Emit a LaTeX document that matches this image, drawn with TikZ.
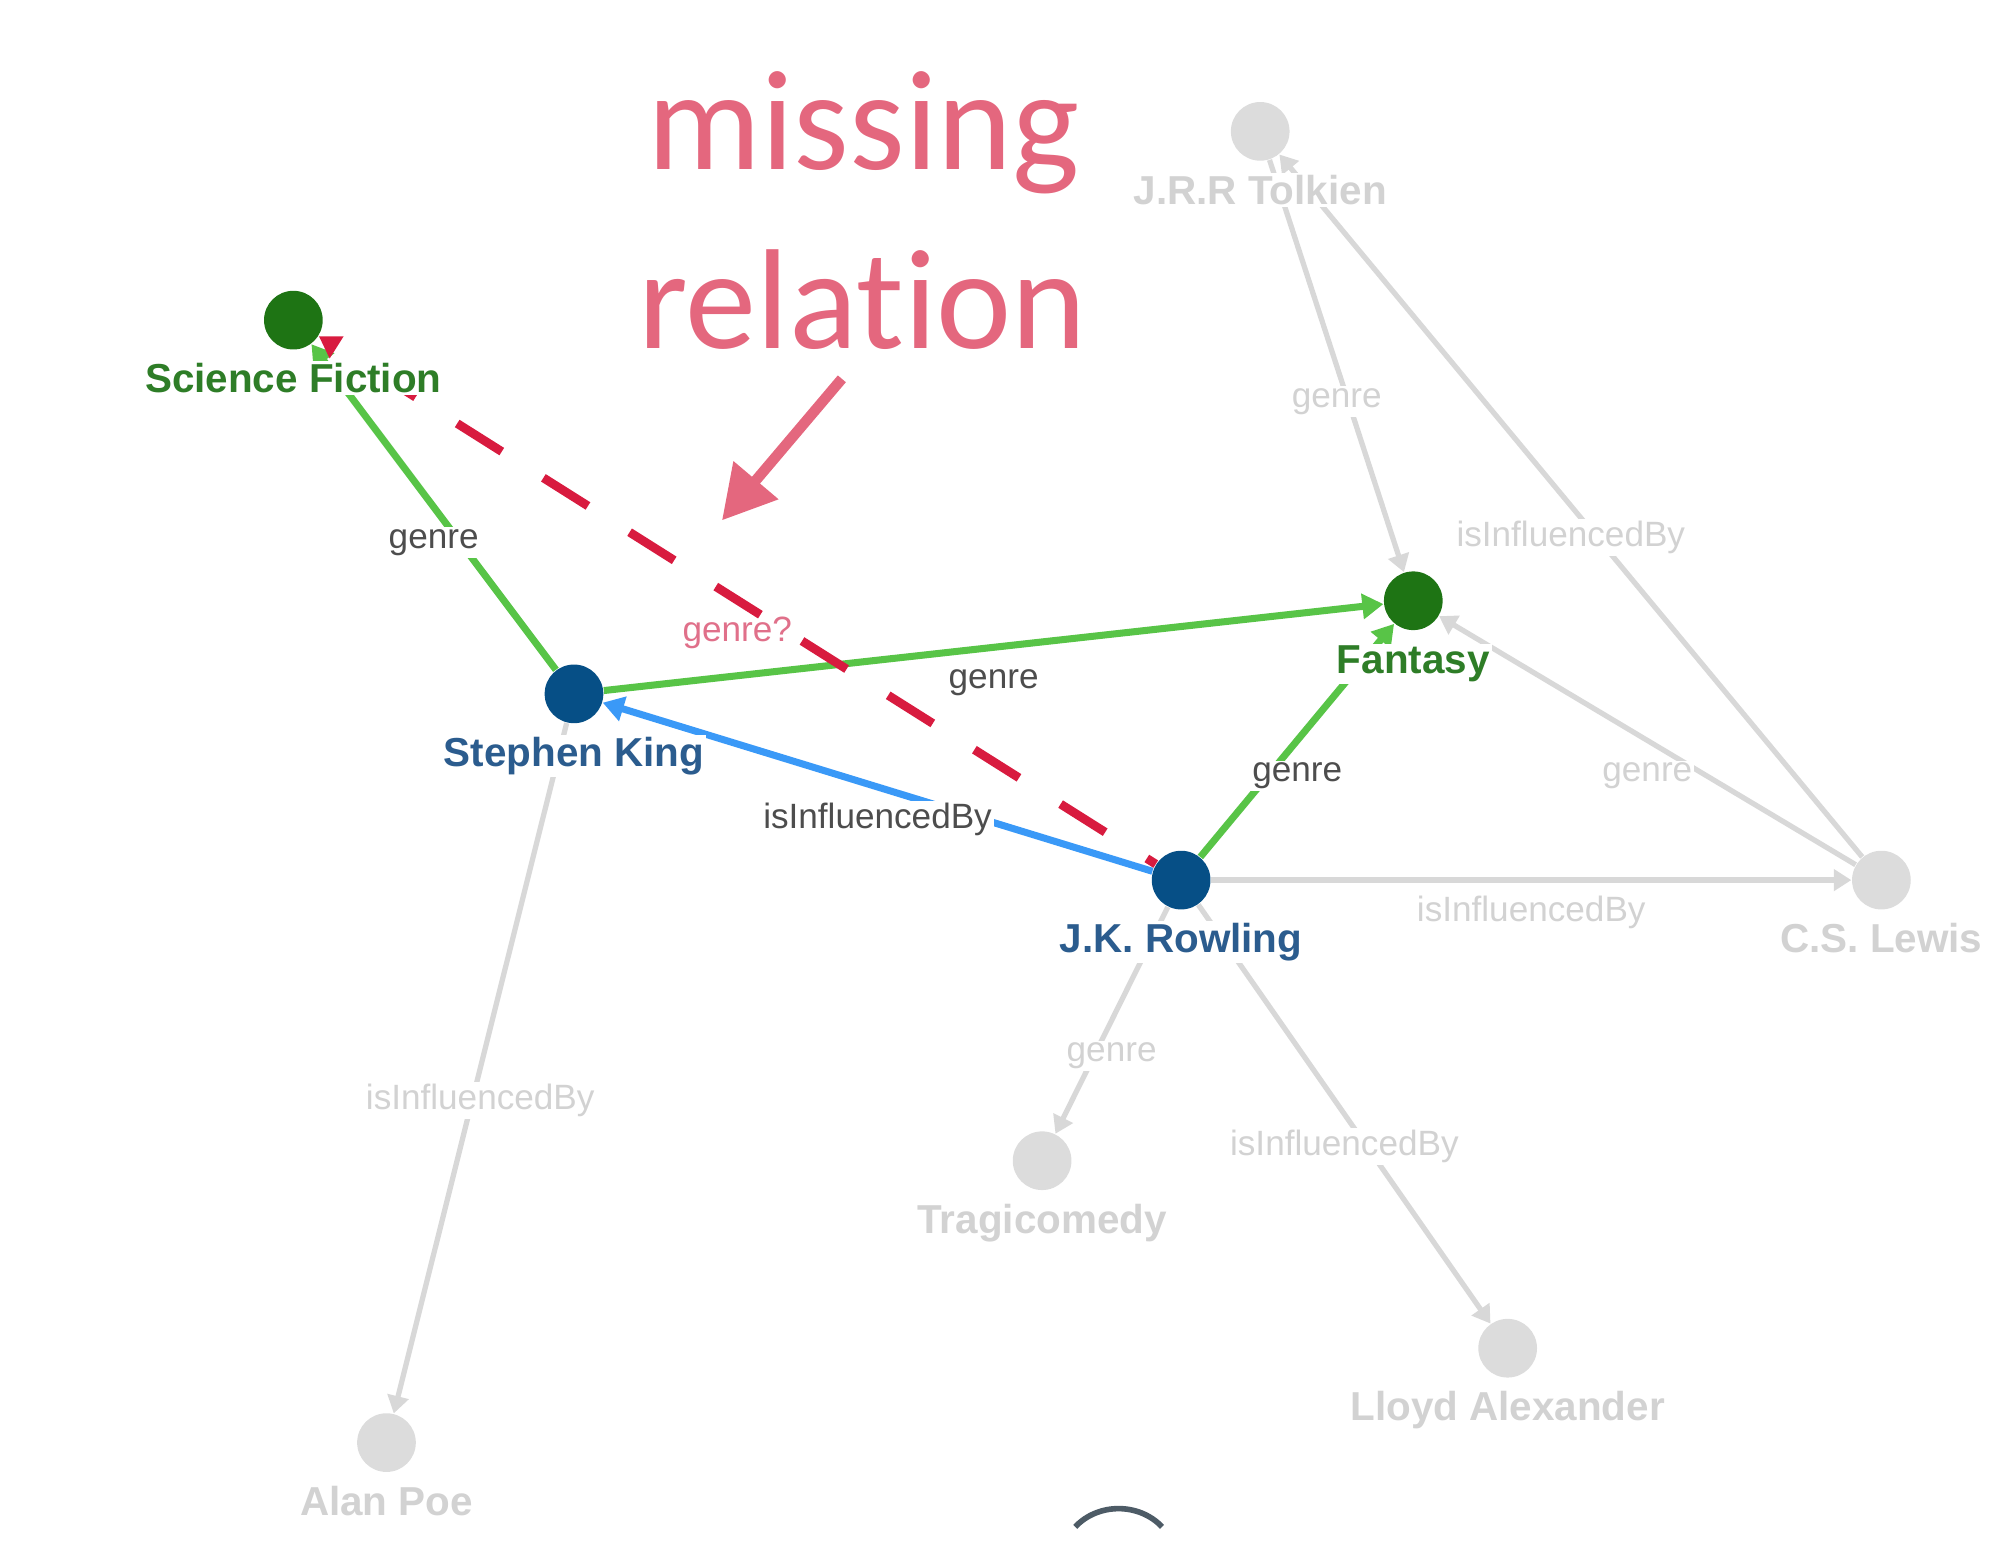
\documentclass[tikz,border=0pt]{standalone}
\usepackage{fontspec}
\setmainfont{Liberation Sans}
\newfontfamily\annofont[RawFeature={-liga;-clig;-dlig;-calt}]{Carlito}
\usetikzlibrary{arrows.meta}
\definecolor{gnodec}{HTML}{1E7414}
\definecolor{bnodec}{HTML}{064F86}
\definecolor{xnodec}{HTML}{DCDCDC}
\definecolor{gedgec}{HTML}{58C447}
\definecolor{bedgec}{HTML}{3A99F7}
\definecolor{redc}{HTML}{D81B3F}
\definecolor{xedgec}{HTML}{D8D8D8}
\definecolor{gtextc}{HTML}{2E7D27}
\definecolor{btextc}{HTML}{2B5C8E}
\definecolor{xtextc}{HTML}{D2D2D2}
\definecolor{etextc}{HTML}{4D4D4D}
\definecolor{rtextc}{HTML}{E0708A}
\definecolor{annoc}{HTML}{E4677E}
\definecolor{arcc}{HTML}{4D5B66}
\tikzset{
  dot/.style={circle, minimum size=16.7pt, inner sep=0pt},
  gnode/.style={dot, fill=gnodec},
  bnode/.style={dot, fill=bnodec},
  xnode/.style={dot, fill=xnodec},
  nlabel/.style={font=\bfseries\fontsize{11.5}{13}\selectfont, fill=white, inner sep=0.6pt, anchor=base},
  glabel/.style={nlabel, text=gtextc},
  blabel/.style={nlabel, text=btextc},
  xlabel/.style={nlabel, text=xtextc},
  elabel/.style={font=\fontsize{10}{12}\selectfont, fill=white, inner sep=0.6pt, anchor=base, pos=0.5, yshift=-11.7pt, text=etextc},
  xelabel/.style={elabel, text=xtextc},
  relabel/.style={elabel, fill=none, text=rtextc},
  gedge/.style={draw=gedgec, line width=2pt, -{Triangle[length=6pt,width=7pt]}},
  bedge/.style={draw=bedgec, line width=2pt, -{Triangle[length=6pt,width=7pt]}},
  xedge/.style={draw=xedgec, line width=1.5pt, -{Triangle[length=5pt,width=6pt]}},
  redge/.style={draw=redc, line width=2.5pt, dash pattern=on 15pt off 14pt, dash phase=12pt, -{Triangle[length=6pt,width=7pt]}},
  anno/.style={font=\annofont\fontsize{40.5}{50}\selectfont, text=annoc, anchor=base, inner sep=0pt},
  annoarrow/.style={draw=annoc, line width=3pt, -{Triangle[length=15pt,width=16pt]}},
}
\begin{document}
\begin{tikzpicture}[x=0.012755cm, y=-0.012755cm]
\useasboundingbox (0,0) rectangle (1568,1217);
% nodes
\node[gnode] (sf)  at (230,251) {};
\node[bnode] (sk)  at (450,544) {};
\node[gnode] (fan) at (1108,471) {};
\node[bnode] (jk)  at (926,690) {};
\node[xnode] (tol) at (988,103) {};
\node[xnode] (lew) at (1475,690) {};
\node[xnode] (tra) at (817,910) {};
\node[xnode] (llo) at (1182,1057) {};
\node[xnode] (poe) at (303,1131) {};
% grey edges
\draw[xedge] (tol) -- node[xelabel]{genre} (fan);
\draw[xedge] (lew) -- node[xelabel]{isInfluencedBy} (tol);
\draw[xedge] (lew) -- node[xelabel]{genre} (fan);
\draw[xedge] (jk) -- node[xelabel]{isInfluencedBy} (lew);
\draw[xedge] (jk) -- node[xelabel]{genre} (tra);
\draw[xedge] (jk) -- node[xelabel]{isInfluencedBy} (llo);
\draw[xedge] (sk) -- node[xelabel]{isInfluencedBy} (poe);
% active edges
\draw[gedge] (sk) -- node[elabel]{genre} (sf);
\draw[gedge] (sk) -- node[elabel]{genre} (fan);
\draw[gedge] (jk) -- node[elabel]{genre} (fan);
\draw[bedge] (jk) -- node[elabel]{isInfluencedBy} (sk);
\draw[redge] (jk) -- node[relabel]{genre?} (sf);
% node labels
\node[glabel] (sfL)  at (230,308) {Science Fiction};
\node[blabel] (skL)  at (450,601) {Stephen King};
\node[glabel] (fanL) at (1108,528) {Fantasy};
\node[blabel] (jkL)  at (926,747) {J.K. Rowling};
\node[xlabel] (tolL) at (988,160) {J.R.R Tolkien};
\node[xlabel] (lewL) at (1475,747) {C.S. Lewis};
\node[xlabel] (traL) at (817,967) {Tragicomedy};
\node[xlabel] (lloL) at (1182,1114) {Lloyd Alexander};
\node[xlabel] (poeL) at (303,1188) {Alan Poe};
% annotation
\node[anno] (ann1) at (677,133) {missing};
\node[anno] (ann2) at (676,273) {relat\kern0pt ion};
\coordinate (pa) at (660,297);
\coordinate (pb) at (566,408);
\draw[annoarrow] (pa) -- (pb);
% partial circle at bottom
\coordinate (arcL) at (843,1197);
\coordinate (arcC1) at (861,1178);
\coordinate (arcC2) at (893,1178);
\coordinate (arcR) at (911,1197);
\draw[arcc, line width=1.6pt] (arcL) .. controls (arcC1) and (arcC2) .. (arcR);
\end{tikzpicture}
\end{document}
